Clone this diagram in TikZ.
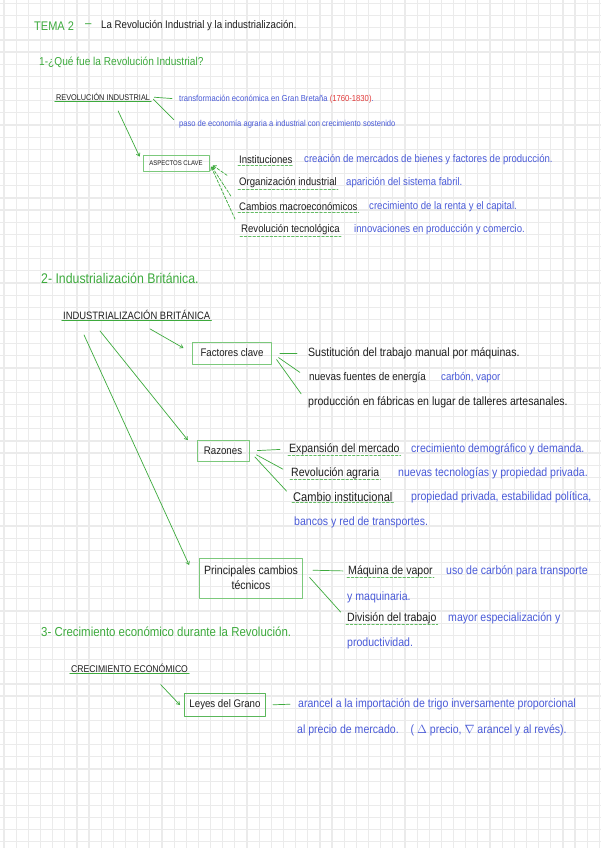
\documentclass[tikz,border=0pt]{standalone}
\usepackage{fontspec}
\setmainfont{Liberation Sans}[FakeStretch=0.88]
\usetikzlibrary{arrows.meta}
\definecolor{hoja}{HTML}{EBEBEB}
\definecolor{verde}{HTML}{3DAA3D}
\definecolor{verdecaja}{HTML}{7CC97C}
\definecolor{azul}{HTML}{4A5BD8}
\definecolor{rojo}{HTML}{E23A3A}
\definecolor{tinta}{HTML}{1E1E1E}
\tikzset{
  cuadricula/.style={hoja,line width=1.2pt},
  seccion/.style={anchor=west,inner sep=1pt,text=verde,font=\fontsize{13}{15}\selectfont},
  negro/.style={anchor=west,inner sep=1pt,text=tinta,font=\fontsize{12}{14}\selectfont},
  azultxt/.style={anchor=west,inner sep=1pt,text=azul,font=\fontsize{12}{14}\selectfont},
  azulpeq/.style={azultxt,font=\fontsize{10.9}{13}\selectfont},
  tema/.style={anchor=west,inner sep=1pt,text=tinta,font=\fontsize{10.7}{12}\selectfont},
  clave/.style={negro},
  clavepeq/.style={negro,font=\fontsize{10.9}{13}\selectfont},
  caja/.style={draw=verdecaja,line width=0.8pt,inner sep=2pt,text=tinta,font=\fontsize{11}{13}\selectfont},
  subrayado/.style={verde,line width=1.1pt},
  subclave/.style={verde!80,line width=0.8pt,dash pattern=on 2.5pt off 1.8pt},
  rama/.style={verde,line width=0.7pt},
  ramadash/.style={verde,line width=0.7pt,dash pattern=on 3pt off 1.5pt,{Straight Barb[length=3pt,width=4pt]}-},
  flecha/.style={verde,line width=0.7pt,-{Straight Barb[length=3pt,width=4pt]}}
}
\begin{document}
\begin{tikzpicture}[x=1pt,y=-1pt,line cap=round,line join=round]
\useasboundingbox (0,0) rectangle (601,848);
\fill[white] (0,0) rectangle (601,848);
\foreach \i in {0,...,49}{\draw[cuadricula] ({4+12.15*\i},0)--({4+12.15*\i},848);}
\foreach \j in {0,...,69}{\draw[cuadricula] (0,{3.5+12.15*\j})--(601,{3.5+12.15*\j});}
% titulo
\node[seccion,font=\fontsize{12.5}{14}\selectfont] (tema2) at (33,26) {TEMA 2};
\node[seccion] (guion) at (84,26) {--};
\node[negro,font=\fontsize{11}{13}\selectfont] (titulo) at (100,26) {La Revolución Industrial y la industrialización.};
% 1
\node[seccion,font=\fontsize{11.5}{13}\selectfont] (sec1) at (38,62) {1-¿Qué fue la Revolución Industrial?};
\node[tema,font=\fontsize{8.3}{10}\selectfont] (revind) at (55,97) {REVOLUCIÓN INDUSTRIAL};
\node[azultxt,font=\fontsize{8.7}{10}\selectfont] (transf) at (178,99) {transformación económica en Gran Bretaña \textcolor{rojo}{(1760-1830)}.};
\node[azultxt,font=\fontsize{8.6}{10}\selectfont] (paso) at (178,124) {paso de economía agraria a industrial con crecimiento sostenido};
\draw[rama,shorten <=3pt,shorten >=6pt] (revind.east) -- (transf.west);
\draw[rama,shorten <=3pt,shorten >=6pt] (revind.east) -- (paso.west);
\node[caja,minimum width=66,minimum height=16,font=\fontsize{6.8}{8}\selectfont] (aspectos) at (176,163) {ASPECTOS CLAVE};
\draw[flecha,shorten >=7pt] ([xshift=15pt,yshift=-9pt]revind.south) -- (aspectos.west);
\node[clavepeq] (inst) at (238,160) {Instituciones};
\node[azulpeq] (inst-d) at (303,160) {creación de mercados de bienes y factores de producción.};
\node[clavepeq] (org) at (238,183) {Organización industrial};
\node[azulpeq] (org-d) at (345,183) {aparición del sistema fabril.};
\node[clavepeq] (macro) at (238,207) {Cambios macroeconómicos};
\node[azulpeq] (macro-d) at (368,207) {crecimiento de la renta y el capital.};
\node[clavepeq] (tecno) at (240,230) {Revolución tecnológica};
\node[azulpeq] (tecno-d) at (353,230) {innovaciones en producción y comercio.};
\foreach \n in {org,macro,tecno}{\draw[ramadash,shorten <=4pt,shorten >=12pt] (aspectos.east) -- (\n.west);}
% 2
\node[seccion,font=\fontsize{14}{16}\selectfont] (sec2) at (40,278) {2- Industrialización Británica.};
\node[tema] (indbrit) at (62,315) {INDUSTRIALIZACIÓN BRITÁNICA};
\node[caja,minimum width=79,minimum height=22] (factores) at (232,353) {Factores clave};
\node[negro] (sust) at (307,353) {Sustitución del trabajo manual por máquinas.};
\node[negro,font=\fontsize{11.2}{13}\selectfont] (fuentes) at (308,378) {nuevas fuentes de energía};
\node[azultxt,font=\fontsize{11}{13}\selectfont] (carbon) at (440,378) {carbón, vapor};
\node[negro] (fabricas) at (307,402) {producción en fábricas en lugar de talleres artesanales.};
\foreach \n in {sust,fuentes,fabricas}{\draw[rama,shorten <=8pt,shorten >=10pt] (factores.east) -- (\n.west);}
\node[caja,minimum width=52,minimum height=21] (razones) at (223,451) {Razones};
\node[clave] (expansion) at (288,449) {Expansión del mercado};
\node[azultxt] (expansion-d) at (410,449) {crecimiento demográfico y demanda.};
\node[clave] (agraria) at (290,473) {Revolución agraria};
\node[azultxt] (agraria-d) at (397,473) {nuevas tecnologías y propiedad privada.};
\node[clave,font=\fontsize{12.6}{14}\selectfont] (instit) at (292,497) {Cambio institucional};
\node[azultxt] (instit-d) at (410,497) {propiedad privada, estabilidad política,};
\node[azultxt] (instit-d2) at (293,522) {bancos y red de transportes.};
\foreach \n in {expansion,agraria,instit}{\draw[rama,shorten <=8pt,shorten >=8pt] (razones.east) -- (\n.west);}
\node[caja,minimum width=103,minimum height=40,align=center,font=\fontsize{12}{15}\selectfont] (cambios) at (251,578) {Principales cambios\\técnicos};
\node[clave] (vapor) at (347,571) {Máquina de vapor};
\node[azultxt] (vapor-d) at (445,571) {uso de carbón para transporte};
\node[azultxt] (vapor-d2) at (346,597) {y maquinaria.};
\node[clave] (division) at (346,618) {División del trabajo};
\node[azultxt] (division-d) at (447,618) {mayor especialización y};
\node[azultxt] (division-d2) at (346,643) {productividad.};
\draw[rama,shorten <=10pt,shorten >=4pt] ([yshift=8pt]cambios.east) -- (vapor.west);
\draw[rama,shorten <=10pt,shorten >=8pt] ([yshift=8pt]cambios.east) -- (division.west);
\draw[flecha,shorten >=10pt] ([xshift=88pt,yshift=-8pt]indbrit.south west) -- (factores.west);
\draw[flecha,shorten >=14pt] ([xshift=38pt,yshift=-10pt]indbrit.south west) -- (razones.west);
\draw[flecha] ([xshift=22pt,yshift=-14pt]indbrit.south west) -- ([xshift=-10pt,yshift=13pt]cambios.west);
% 3
\node[seccion] (sec3) at (40,632) {3- Crecimiento económico durante la Revolución.};
\node[tema,font=\fontsize{9.8}{12}\selectfont] (crec) at (70,668) {CRECIMIENTO ECONÓMICO};
\node[caja,draw=verde!85,line width=1pt,minimum width=81,minimum height=23] (leyes) at (225,705) {Leyes del Grano};
\draw[flecha] ([xshift=31pt,yshift=-11pt]crec.south) -- ([xshift=-4pt]leyes.west);
\node[azultxt] (arancel) at (297,704) {arancel a la importación de trigo inversamente proporcional};
\node[azultxt] (arancel2) at (296,730) {al precio de mercado.\quad( $\Delta$ precio, $\nabla$ arancel y al revés).};
\draw[rama,shorten <=7pt,shorten >=7pt] (leyes.east) -- (arancel.west);
\foreach \n in {revind,indbrit,crec}{\draw[subrayado] (\n.south west) -- (\n.south east);}
\foreach \n in {inst,org,macro,tecno,expansion,agraria,instit,vapor,division}{\draw[subclave] (\n.south west) -- (\n.south east);}
\end{tikzpicture}
\end{document}
